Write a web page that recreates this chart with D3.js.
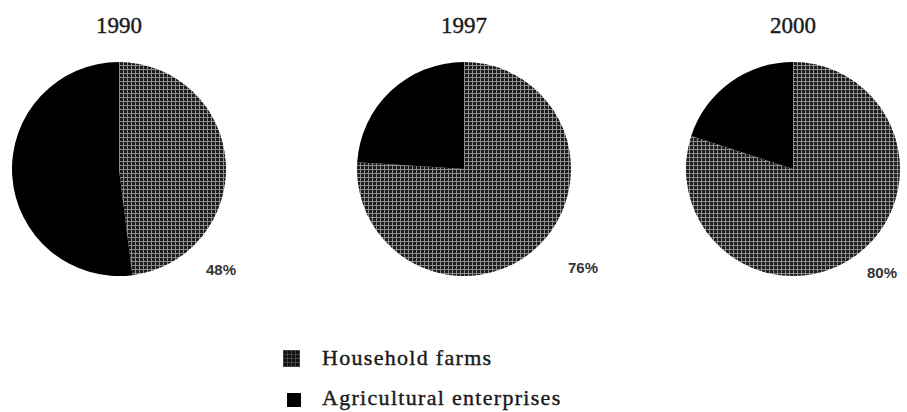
<!DOCTYPE html>
<html>
<head>
<meta charset="utf-8">
<script src="https://cdn.jsdelivr.net/npm/d3@7"></script>
<style>
  body { margin: 0; background: #fff; }
  svg { display: block; }
</style>
</head>
<body>
<svg width="907" height="412"></svg>
<script>
// share of agricultural output, percent
const years = ["1990", "1997", "2000"];
const householdFarms = [48, 76, 80];
const agriEnterprises = [52, 24, 20];
const seriesNames = ["Household farms", "Agricultural enterprises"];

const radius = 107;
const pieTop = 169;
const pieCenters = [119, 464, 793];
// where each percent label sits relative to its pie centre
const labelOffsets = [[102, 106], [119, 104], [89, 109]];

const svg = d3.select("svg");

// dark cross-hatch fills for the household slices and legend key
const defs = svg.append("defs");
function hatch(id, line, cell) {
    const pat = defs.append("pattern")
        .attr("id", id)
        .attr("patternUnits", "userSpaceOnUse")
        .attr("width", 4)
        .attr("height", 4);
    pat.append("rect").attr("width", 4).attr("height", 4).attr("fill", line);
    pat.append("rect").attr("x", 1).attr("y", 1).attr("width", 3).attr("height", 3).attr("fill", cell);
}
hatch("hatch", "#8e8e8e", "#1c1c1c");
hatch("hatchKey", "#444", "#111");

const color = d3.scaleOrdinal()
    .domain(seriesNames)
    .range(["url(#hatch)", "#000"]);

const pie = d3.pie()
    .sort(null)
    .value(d => d.value);

const arc = d3.arc()
    .innerRadius(0)
    .outerRadius(radius);

years.forEach(function(year, i) {
    const data = [
        {name: seriesNames[0], value: householdFarms[i]},
        {name: seriesNames[1], value: agriEnterprises[i]}
    ];

    const g = svg.append("g")
        .attr("transform", `translate(${pieCenters[i]}, ${pieTop})`);

    g.selectAll("path")
        .data(pie(data))
        .enter().append("path")
        .attr("d", arc)
        .attr("fill", d => color(d.data.name));

    // year title
    g.append("text")
        .attr("x", 0)
        .attr("y", -radius - 29)
        .attr("text-anchor", "middle")
        .attr("font-family", "'Liberation Serif', 'DejaVu Serif', serif")
        .attr("font-size", "23px")
        .attr("fill", "#1a1a1a")
        .attr("stroke", "#1a1a1a")
        .attr("stroke-width", 0.4)
        .text(year);

    // household share label
    g.append("text")
        .attr("x", labelOffsets[i][0])
        .attr("y", labelOffsets[i][1])
        .attr("text-anchor", "middle")
        .attr("font-family", "'Liberation Sans Narrow', 'Liberation Sans', Arial, sans-serif")
        .attr("font-weight", "bold")
        .attr("font-size", "15px")
        .attr("fill", "#333")
        .text(householdFarms[i] + "%");
});

// legend
const legend = svg.append("g")
    .attr("transform", "translate(283, 350)");

legend.selectAll("rect")
    .data(seriesNames)
    .enter().append("rect")
    .attr("x", (d, i) => i * 4)
    .attr("y", (d, i) => i * 43)
    .attr("width", (d, i) => 17 - i * 3)
    .attr("height", (d, i) => 17 - i * 3)
    .attr("fill", d => d === seriesNames[0] ? "url(#hatchKey)" : "#000");

legend.selectAll("text")
    .data(seriesNames)
    .enter().append("text")
    .attr("x", 39)
    .attr("y", (d, i) => 15 + i * 40)
    .attr("font-family", "'Liberation Serif', 'DejaVu Serif', serif")
    .attr("font-size", "22px")
    .attr("letter-spacing", "1.3px")
    .attr("fill", "#1a1a1a")
    .attr("stroke", "#1a1a1a")
    .attr("stroke-width", 0.4)
    .text(d => d);
</script>
</body>
</html>
